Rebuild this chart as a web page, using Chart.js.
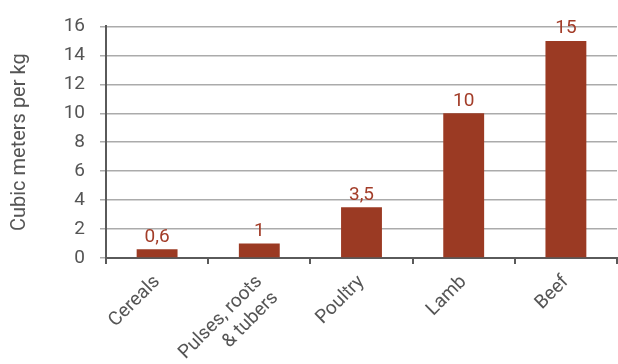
<!DOCTYPE html>
<html>
<head>
<meta charset="utf-8">
<script src="https://cdn.jsdelivr.net/npm/chart.js@4"></script>
<style>
  html, body { margin: 0; padding: 0; background: #fff; }
  #wrap { width: 618px; height: 364px; }
</style>
</head>
<body>
<div id="wrap"><canvas id="waterChart" width="618" height="364"></canvas></div>
<script>
// water use per kg of food
const categories = ["Cereals", ["Pulses, roots", "& tubers"], "Poultry", "Lamb", "Beef"];
const volumes = [0.6, 1, 3.5, 10, 15];
const yTicks = [0, 2, 4, 6, 8, 10, 12, 14, 16];

const barColor = "#9b3a23";
const axisGray = "#5a5a5a";
const textGray = "#555555";
const fontFamily = "Roboto, 'DejaVu Sans', sans-serif";

// prints each value above its bar, with a decimal comma
const valueLabels = {
  id: "valueLabels",
  afterDatasetsDraw(chart) {
    const ctx = chart.ctx;
    const meta = chart.getDatasetMeta(0);
    ctx.save();
    ctx.fillStyle = "#a33d29";
    ctx.font = "19px " + fontFamily;
    ctx.textAlign = "center";
    ctx.textBaseline = "bottom";
    meta.data.forEach((bar, i) => {
      const txt = String(volumes[i]).replace(".", ",");
      ctx.fillText(txt, bar.x, bar.y - 3);
    });
    ctx.restore();
  }
};

new Chart(document.getElementById("waterChart").getContext("2d"), {
  type: "bar",
  data: {
    labels: categories,
    datasets: [{
      data: volumes,
      backgroundColor: barColor,
      categoryPercentage: 1,
      barPercentage: 0.4
    }]
  },
  options: {
    responsive: false,
    animation: false,
    layout: { padding: { top: 19, right: 1, left: 0, bottom: 0 } },
    plugins: { legend: { display: false }, tooltip: { enabled: false } },
    scales: {
      x: {
        offset: true,
        grid: { drawOnChartArea: false, drawTicks: true, tickLength: 6, color: axisGray, lineWidth: 2 },
        border: { color: axisGray, width: 2 },
        ticks: {
          color: textGray,
          font: { family: fontFamily, size: 19 },
          minRotation: 45,
          maxRotation: 45,
          padding: 7,
          autoSkip: false
        },
        afterFit(scale) { scale.height = 106; }
      },
      y: {
        min: 0,
        max: 16,
        afterBuildTicks(scale) { scale.ticks = yTicks.map(v => ({ value: v })); },
        grid: { color: "#ababab", lineWidth: 1.5, tickLength: 6 },
        border: { color: axisGray, width: 2 },
        ticks: {
          color: textGray,
          font: { family: fontFamily, size: 19 },
          padding: 15
        },
        title: {
          display: true,
          text: "Cubic meters per kg",
          color: textGray,
          font: { family: fontFamily, size: 20 },
          padding: { top: 8, bottom: 0 }
        },
        afterFit(scale) { scale.width = 106; }
      }
    }
  },
  plugins: [valueLabels]
});
</script>
</body>
</html>
